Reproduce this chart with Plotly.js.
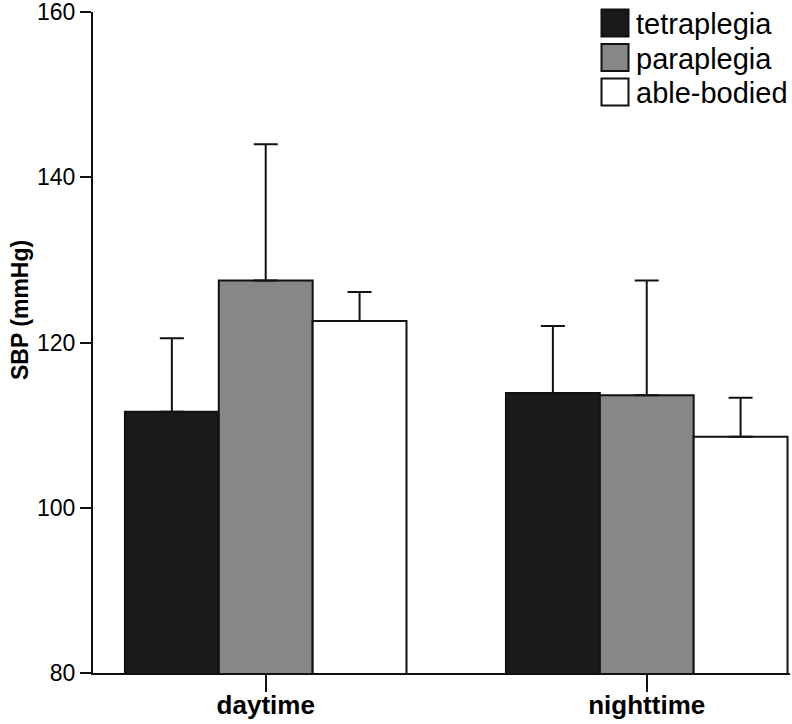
<!DOCTYPE html>
<html>
<head>
<meta charset="utf-8">
<script src="https://cdn.plot.ly/plotly-3.0.1.min.js"></script>
<style>html,body{margin:0;padding:0;background:#fff;}#chart{width:792px;height:724px;}</style>
</head>
<body>
<div id="chart"></div>
<script>
var categories = ["daytime", "nighttime"];
var seriesNames = ["tetraplegia", "paraplegia", "able-bodied"];
var tetraplegia = [111.6, 113.9];
var tetraplegiaSD = [8.9, 8.1];
var paraplegia = [127.5, 113.6];
var paraplegiaSD = [16.5, 13.9];
var ableBodied = [122.6, 108.6];
var ableBodiedSD = [3.5, 4.7];
var yTicks = [80, 100, 120, 140, 160];
var yTitle = "SBP (mmHg)";

var colors = ["#1a1a1a", "#878787", "#ffffff"];
var values = [tetraplegia, paraplegia, ableBodied];
var sds = [tetraplegiaSD, paraplegiaSD, ableBodiedSD];

var W = 792, H = 724;
var mL = 93, mR = 2, mT = 12, mB = 51;
var plotW = W - mL - mR, plotH = H - mT - mB;
function px2paperX(px){ return (px - mL) / plotW; }
function px2paperY(py){ return (H - mB - py) / plotH; }

var traces = seriesNames.map(function(name, i){
  return {
    type: "bar",
    name: name,
    x: categories,
    y: values[i],
    marker: {color: colors[i], line: {color: "#111", width: 2}},
    error_y: {type: "data", array: sds[i], symmetric: false, arrayminus: [0,0], visible: true, color: "#111", thickness: 2, width: 12},
    showlegend: false
  };
});

var shapes = [], annotations = [];
var rowTop = [9.5, 44, 78.5];
seriesNames.forEach(function(name, i){
  var y0 = rowTop[i], y1 = rowTop[i] + 27;
  shapes.push({type: "rect", xref: "paper", yref: "paper",
    x0: px2paperX(601.5), x1: px2paperX(628.5), y0: px2paperY(y1), y1: px2paperY(y0),
    fillcolor: colors[i], line: {color: "#111", width: 2}});
  annotations.push({xref: "paper", yref: "paper", x: px2paperX(634), y: px2paperY((y0 + y1) / 2 + 1),
    xanchor: "left", yanchor: "middle", showarrow: false, text: name,
    font: {family: "Liberation Sans, Arial, sans-serif", size: 29, color: "#000"}});
});
annotations.push({xref: "paper", yref: "paper", x: px2paperX(20), y: px2paperY(310),
  xanchor: "center", yanchor: "middle", showarrow: false, textangle: -90, text: yTitle,
  font: {family: "Liberation Sans, Arial, sans-serif", size: 23, weight: "bold", color: "#000"}});

var layout = {
  width: W, height: H,
  margin: {l: mL, r: mR, t: mT, b: mB, pad: 0},
  paper_bgcolor: "#fff", plot_bgcolor: "#fff",
  barmode: "group", bargap: 0.261, bargroupgap: 0,
  font: {family: "Liberation Sans, Arial, sans-serif", color: "#000"},
  xaxis: {
    type: "category", range: [-0.4533, 1.376],
    showline: true, linecolor: "#111", linewidth: 2,
    ticks: "outside", ticklen: 17, tickwidth: 2, tickcolor: "#111",
    ticklabelstandoff: -9,
    tickfont: {family: "Liberation Sans, Arial, sans-serif", size: 26, weight: "bold", color: "#000"},
    showgrid: false, zeroline: false, fixedrange: true
  },
  yaxis: {
    range: [79.98, 160.02], tickvals: yTicks, ticktext: yTicks.map(String),
    ticklabeloverflow: "allow",
    showline: true, linecolor: "#111", linewidth: 2,
    ticks: "outside", ticklen: 11, tickwidth: 2, tickcolor: "#111",
    tickfont: {family: "Liberation Sans, Arial, sans-serif", size: 23, color: "#000"},
    showgrid: false, zeroline: false, fixedrange: true
  },
  shapes: shapes,
  annotations: annotations,
  showlegend: false
};

Plotly.newPlot("chart", traces, layout, {displayModeBar: false, staticPlot: true});
</script>
</body>
</html>
